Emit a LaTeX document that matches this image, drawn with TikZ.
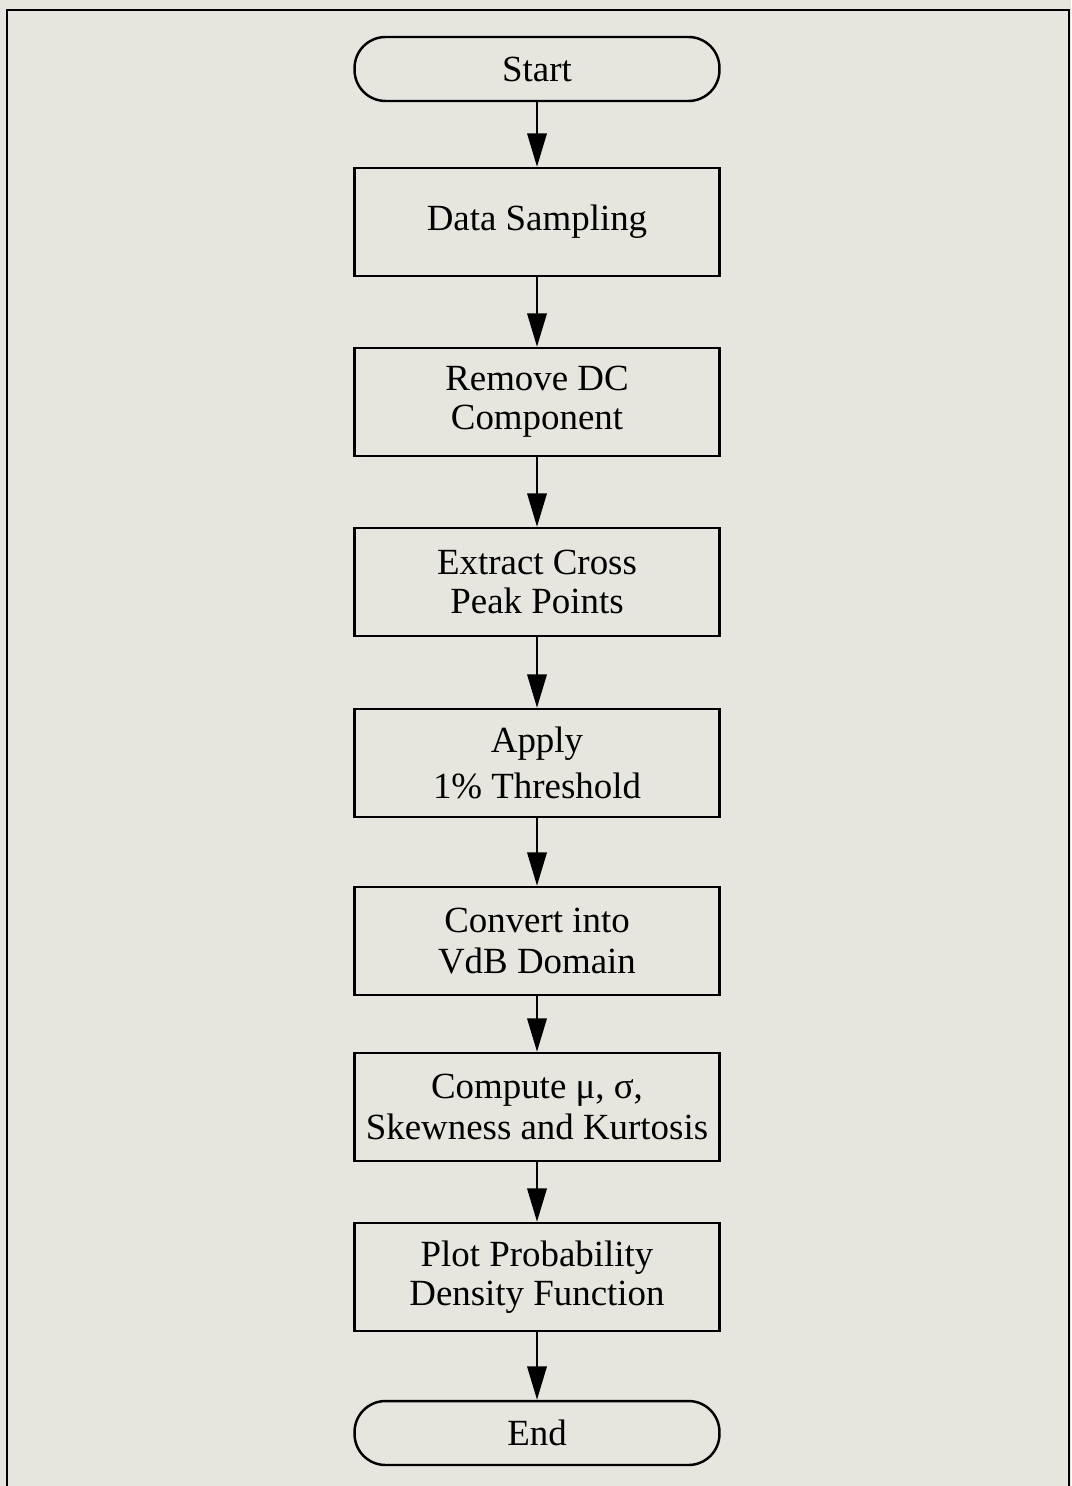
\documentclass[tikz,border=0pt]{standalone}
\usepackage{fontspec}
\setmainfont{Liberation Serif}
\usetikzlibrary{arrows.meta}
\definecolor{paper}{RGB}{230,230,223}
\begin{document}
\begin{tikzpicture}[x=0.02cm,y=0.02cm]
\tikzstyle{every node}+=[font=\fontsize{21}{22}\selectfont, align=center, inner sep=0pt]
\tikzstyle{process}=[draw, line width=1.4pt, minimum width=7.3cm, minimum height=2.16cm]
\tikzstyle{terminal}=[draw, line width=1.4pt, rounded corners=0.62cm, minimum width=7.3cm, minimum height=1.28cm]
\tikzstyle{flow}=[line width=1.4pt, -{Triangle[length=19pt,width=11pt]}]
\fill [paper] (0,0) rectangle (1071,-1486);
\useasboundingbox (0,0) rectangle (1071,-1486);
\draw [line width=1.6pt] (7,-1486) -- (7,-10) -- (1069,-10) -- (1069,-1486);
\node [terminal] (start) at (537,-69) {Start};
\node [process] (sampling) at (537,-222) {Data Sampling};
\node [process] (removedc) at (537,-402) {Remove DC\\Component};
\node [process] (extract) at (537,-582) {Extract Cross\\Peak Points};
\node [process] (threshold) at (537,-763) {Apply\\[4pt]1\% Threshold};
\node [process] (convert) at (537,-941) {Convert into\\[1pt]VdB Domain};
\node [process] (compute) at (537,-1107) {Compute μ, σ,\\[1pt]Skewness and Kurtosis};
\node [process] (plot) at (537,-1277) {Plot Probability\\Density Function};
\node [terminal] (end) at (537,-1433) {End};
\draw [flow] (start) -- (sampling);
\draw [flow] (sampling) -- (removedc);
\draw [flow] (removedc) -- (extract);
\draw [flow] (extract) -- (threshold);
\draw [flow] (threshold) -- (convert);
\draw [flow] (convert) -- (compute);
\draw [flow] (compute) -- (plot);
\draw [flow] (plot) -- (end);
\end{tikzpicture}
\end{document}
